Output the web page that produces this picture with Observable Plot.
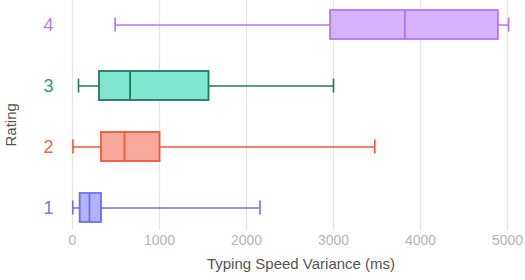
<!DOCTYPE html>
<html>
<head>
<meta charset="utf-8">
<script src="https://cdn.jsdelivr.net/npm/d3@7"></script>
<script src="https://cdn.jsdelivr.net/npm/@observablehq/plot@0.6"></script>
<style>
  body { margin: 0; background: #fff; }
  #chart svg { display: block; }
</style>
</head>
<body>
<div id="chart"></div>
<script>
const ratings = ["4", "3", "2", "1"];
const whiskerLow = [490, 69, 5, 3];
const q1 = [2966, 310, 333, 88];
const median = [3820, 662, 597, 195];
const q3 = [4895, 1569, 1006, 333];
const whiskerHigh = [5013, 3000, 3475, 2155];
const strokeColors = ["#b574f7", "#23795a", "#f2573e", "#6b6ff5"];
const fillColors = ["#d6b4fd", "#80e6cf", "#f8a99c", "#b1b4fb"];
const labelColors = ["#b57cf5", "#2d9a6e", "#f0624a", "#7579f5"];
const xTicks = [0, 1000, 2000, 3000, 4000, 5000];

const rows = ratings.map((r, i) => ({
  rating: r, lo: whiskerLow[i], q1: q1[i], med: median[i], q3: q3[i], hi: whiskerHigh[i],
  stroke: strokeColors[i], fill: fillColors[i]
}));
const colorOf = Object.fromEntries(ratings.map((r, i) => [r, labelColors[i]]));

const font = "Liberation Sans, Helvetica, Arial, sans-serif";

const chart = Plot.plot({
  width: 525,
  height: 280,
  marginLeft: 72,
  marginRight: 18,
  marginTop: 3,
  marginBottom: 52,
  style: { fontFamily: font, background: "#fff" },
  x: { domain: [0, 5000] },
  y: { domain: ratings, paddingInner: 0.53, paddingOuter: 0.1 },
  marks: [
    Plot.gridX(xTicks, { stroke: "#e4e4e4", strokeOpacity: 1, strokeWidth: 1.3, insetTop: -3, insetBottom: -2 }),
    Plot.axisX(xTicks, { tickSize: 0, tickPadding: 7, fontSize: 14, color: "#b5b5b5", label: null, tickFormat: d => String(d) }),
    Plot.axisY({ tickSize: 0, tickPadding: 19, fontSize: 18, label: null,
      fill: d => colorOf[d] }),
    Plot.ruleY(rows, { y: "rating", x1: "lo", x2: "hi", stroke: "stroke", strokeWidth: 1.4 }),
    Plot.tickX(rows, { y: "rating", x: "lo", stroke: "stroke", strokeWidth: 1.6, insetTop: 7.5, insetBottom: 7.5 }),
    Plot.tickX(rows, { y: "rating", x: "hi", stroke: "stroke", strokeWidth: 1.6, insetTop: 7.5, insetBottom: 7.5 }),
    Plot.barX(rows, { y: "rating", x1: "q1", x2: "q3", fill: "fill", stroke: "stroke", strokeWidth: 1.8 }),
    Plot.tickX(rows, { y: "rating", x: "med", stroke: "stroke", strokeWidth: 1.8 }),
    Plot.text(["Typing Speed Variance (ms)"], { frameAnchor: "bottom", dy: 40, dx: 11, fontSize: 15, fill: "#555", text: d => d }),
    Plot.text(["Rating"], { frameAnchor: "left", dx: -61, dy: 30.5, rotate: -90, fontSize: 15, fill: "#555", text: d => d })
  ]
});
document.getElementById("chart").appendChild(chart);
</script>
</body>
</html>
